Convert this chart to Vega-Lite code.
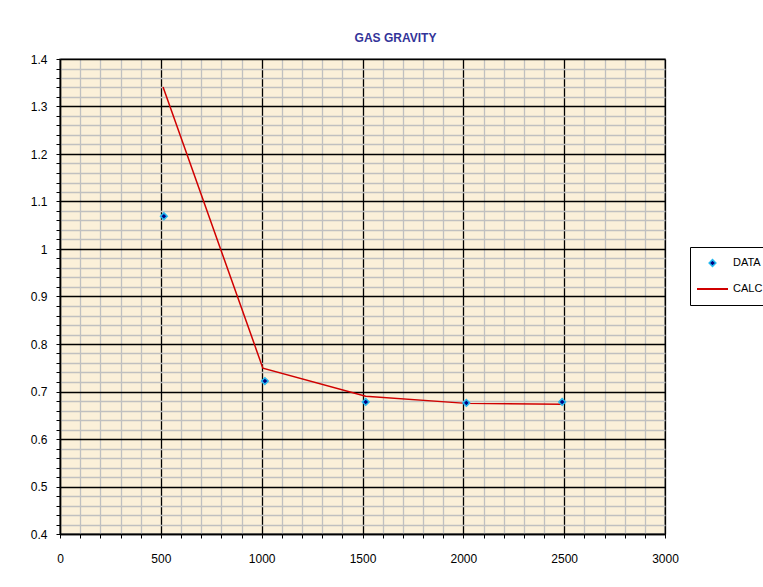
{
  "$schema": "https://vega.github.io/schema/vega-lite/v6.json",
  "width": 605,
  "height": 475,
  "autosize": "none",
  "padding": {"left": 60, "top": 59, "right": 98, "bottom": 53},
  "background": "white",
  "config": {
    "font": "Liberation Sans",
    "view": {"fill": "#FBF0D9", "stroke": "#808080", "strokeWidth": 1.5},
    "legend": {
      "title": null,
      "orient": "none",
      "legendX": 630,
      "legendY": 188,
      "padding": 6,
      "rowPadding": 6,
      "clipHeight": 20,
      "labelOffset": 4,
      "labelFontSize": 11,
      "labelColor": "#000000",
      "labelFont": "Liberation Sans",
      "strokeColor": "#000000",
      "fillColor": "#FFFFFF",
      "cornerRadius": 0,
      "symbolOpacity": 1
    }
  },
  "title": {
    "text": "GAS GRAVITY",
    "fontSize": 12,
    "fontWeight": "bold",
    "color": "#333399",
    "font": "Liberation Sans",
    "anchor": "middle",
    "dx": 33,
    "offset": -1,
    "baseline": "alphabetic"
  },
  "data": {
    "values": [
      {"series": "DATA", "depth": 515, "gravity": 1.069},
      {"series": "DATA", "depth": 1016, "gravity": 0.722},
      {"series": "DATA", "depth": 1516, "gravity": 0.678},
      {"series": "DATA", "depth": 2015, "gravity": 0.676},
      {"series": "DATA", "depth": 2490, "gravity": 0.678},
      {"series": "CALC", "depth": 511, "gravity": 1.341},
      {"series": "CALC", "depth": 1006, "gravity": 0.749},
      {"series": "CALC", "depth": 1516, "gravity": 0.69},
      {"series": "CALC", "depth": 2015, "gravity": 0.675},
      {"series": "CALC", "depth": 2490, "gravity": 0.673}
    ]
  },
  "encoding": {
    "x": {
      "field": "depth",
      "type": "quantitative",
      "scale": {"domain": [0, 3000], "nice": false, "zero": false},
      "axis": {
        "title": null,
        "values": [0,100,200,300,400,500,600,700,800,900,1000,1100,1200,1300,1400,1500,1600,1700,1800,1900,2000,2100,2200,2300,2400,2500,2600,2700,2800,2900,3000],
        "labelExpr": "datum.value % 500 === 0 ? datum.label : ''",
        "grid": true,
        "gridColor": {"condition": {"test": "datum.value % 500 === 0", "value": "#000000"}, "value": "#C0C0C0"},
        "gridWidth": 1.3,
        "gridOpacity": 1,
        "domainColor": "#000000",
        "domainWidth": 1.5,
        "tickColor": "#000000",
        "tickSize": 4,
        "labelPadding": 15,
        "labelFontSize": 12,
        "labelColor": "#000000",
        "labelFlush": false,
        "labelOverlap": false,
        "format": "d"
      }
    },
    "y": {
      "field": "gravity",
      "type": "quantitative",
      "scale": {"domain": [0.4, 1.4], "nice": false, "zero": false},
      "axis": {
        "title": null,
        "values": [0.4,0.42,0.44,0.46,0.48,0.5,0.52,0.54,0.56,0.58,0.6,0.62,0.64,0.66,0.68,0.7,0.72,0.74,0.76,0.78,0.8,0.82,0.84,0.86,0.88,0.9,0.92,0.94,0.96,0.98,1,1.02,1.04,1.06,1.08,1.1,1.12,1.14,1.16,1.18,1.2,1.22,1.24,1.26,1.28,1.3,1.32,1.34,1.36,1.38,1.4],
        "labelExpr": "abs(round(datum.value*10) - datum.value*10) < 0.000001 ? ('' + datum.value) : ''",
        "grid": true,
        "gridColor": {"condition": {"test": "abs(round(datum.value*10) - datum.value*10) < 0.000001", "value": "#000000"}, "value": "#C0C0C0"},
        "gridWidth": 1.3,
        "gridOpacity": 1,
        "domainColor": "#000000",
        "domainWidth": 1.5,
        "tickColor": "#000000",
        "tickSize": 4,
        "labelPadding": 9,
        "labelFontSize": 12,
        "labelColor": "#000000",
        "labelFlush": false,
        "labelOverlap": false
      }
    }
  },
  "layer": [
    {
      "transform": [{"filter": "datum.series === 'CALC'"}],
      "mark": {"type": "line", "color": "#D00000", "strokeWidth": 1.5}
    },
    {
      "transform": [{"filter": "datum.series === 'DATA'"}],
      "mark": {"type": "point", "filled": true, "opacity": 1},
      "encoding": {
        "shape": {
          "field": "series",
          "type": "nominal",
          "scale": {"domain": ["DATA", "CALC"], "range": ["diamond", "stroke"]}
        },
        "fill": {
          "field": "series",
          "type": "nominal",
          "scale": {"domain": ["DATA", "CALC"], "range": ["#000080", "transparent"]}
        },
        "stroke": {
          "field": "series",
          "type": "nominal",
          "scale": {"domain": ["DATA", "CALC"], "range": ["#22B8F0", "#D00000"]}
        },
        "size": {
          "field": "series",
          "type": "nominal",
          "scale": {"type": "ordinal", "domain": ["DATA", "CALC"], "range": [45, 961]}
        },
        "strokeWidth": {
          "field": "series",
          "type": "nominal",
          "scale": {"type": "ordinal", "domain": ["DATA", "CALC"], "range": [1.5, 2]}
        }
      }
    }
  ]
}
